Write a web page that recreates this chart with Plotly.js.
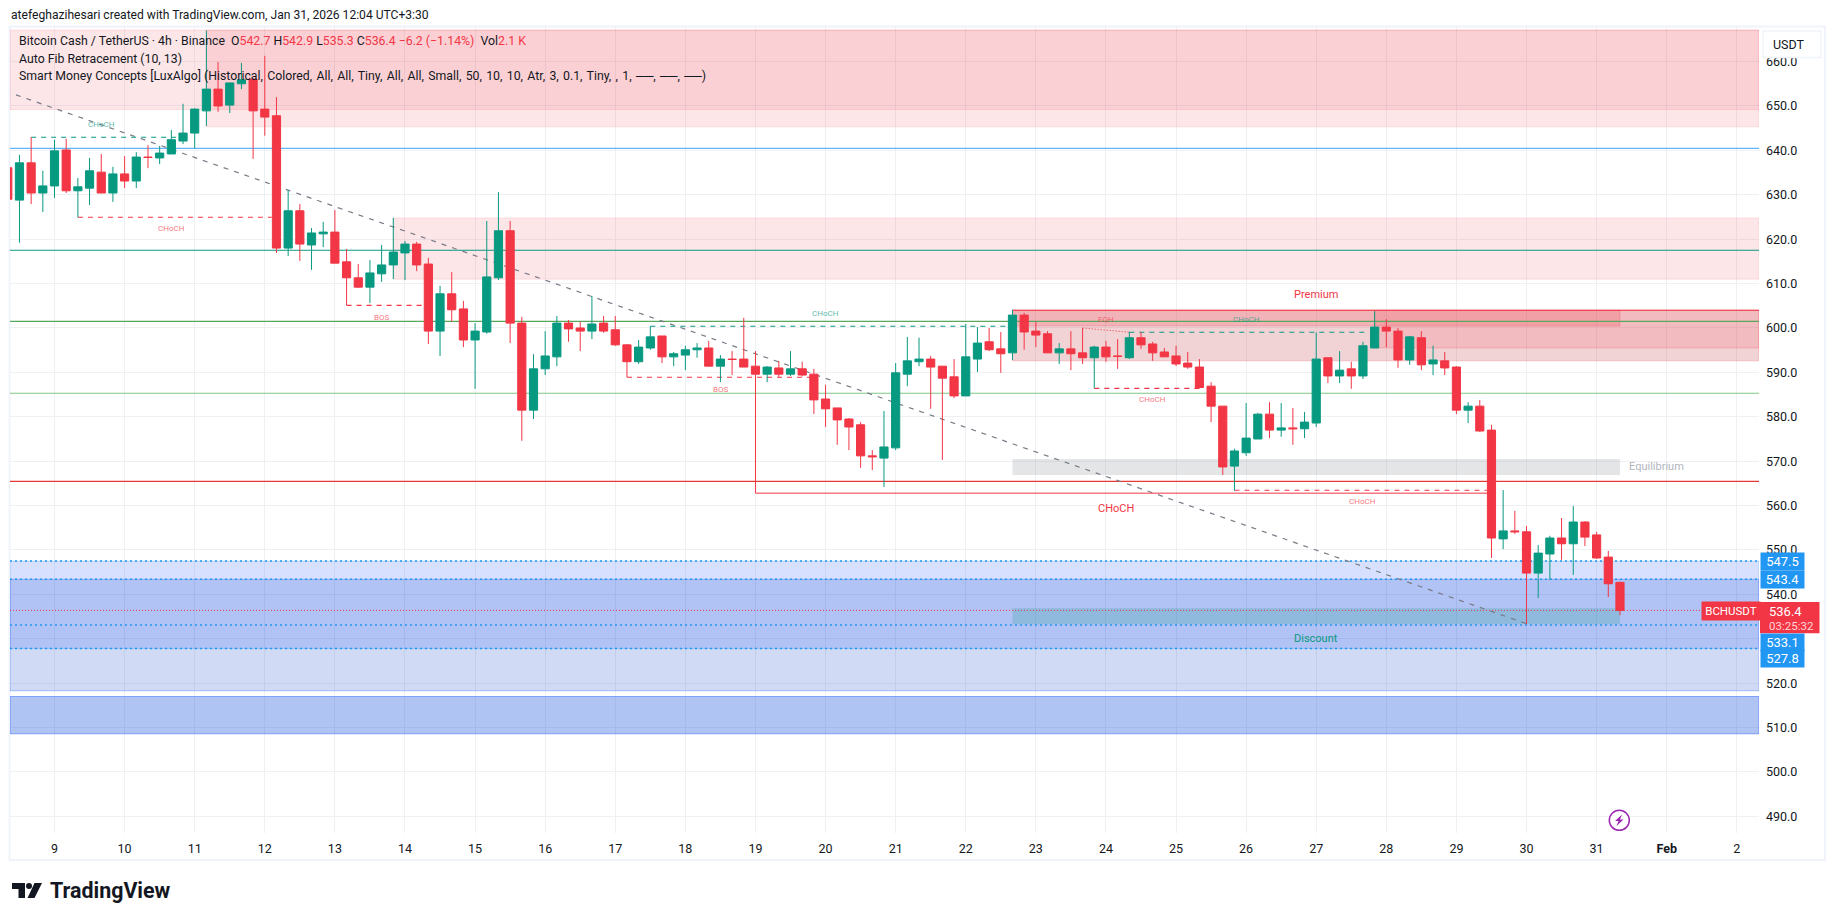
<!DOCTYPE html>
<html>
<head>
<meta charset="utf-8">
<script src="https://cdn.plot.ly/plotly-3.0.1.min.js"></script>
<style>html,body{margin:0;padding:0;background:#fff}#chart{width:1835px;height:921px}</style>
</head>
<body>
<div id="chart"></div>
<script>
const open = [636.1,628.8,637.2,630.4,632.0,640.1,630.9,631.5,635.1,630.4,634.7,633.1,638.5,638.3,639.2,642.1,643.9,648.9,653.8,650.2,655.0,656.0,649.3,647.8,618.0,626.4,618.7,621.2,621.6,614.9,611.3,609.2,612.2,614.2,616.9,618.9,614.4,599.3,607.7,604.3,597.3,599.1,611.3,621.9,601.1,581.5,590.8,593.5,601.1,600.0,599.3,601.1,599.6,596.2,592.4,595.5,598.2,593.5,593.9,595.1,595.5,591.4,593.0,593.0,591.4,589.6,591.0,589.6,590.8,589.6,584.0,582.0,579.5,578.2,571.2,570.7,573.0,589.6,592.4,593.0,591.4,589.0,584.7,593.0,596.9,595.3,594.4,602.9,599.3,598.7,594.4,595.3,594.4,593.3,595.7,593.7,593.3,597.8,596.4,594.6,593.7,592.1,591.2,586.9,582.4,568.9,571.9,575.0,580.6,577.0,577.5,577.3,578.6,593.3,589.2,590.8,589.2,595.5,600.2,599.3,592.8,597.8,591.9,592.6,591.2,581.5,582.4,577.0,552.5,554.3,554.1,544.8,549.1,552.7,551.4,556.3,553.4,548.4,542.7];
const high = [636.8,639.0,643.0,635.4,642.4,642.6,633.8,638.3,639.2,636.3,638.7,639.6,641.2,641.0,644.6,650.5,649.5,667.0,659.9,655.2,659.7,656.2,661.3,652.0,631.1,627.9,622.5,623.9,626.6,617.8,614.4,615.3,618.7,624.8,619.6,619.4,615.8,609.5,612.6,606.1,601.1,624.1,630.6,624.1,602.5,594.1,599.3,602.7,601.8,601.4,607.2,602.7,602.7,596.4,597.3,600.4,598.2,594.6,596.0,596.6,597.1,593.9,594.8,602.3,594.8,591.4,592.6,594.8,592.4,590.8,587.2,582.0,579.7,578.8,572.5,581.3,592.1,598.0,597.8,593.7,591.4,593.0,600.9,600.2,600.0,599.1,604.1,603.4,601.4,599.3,596.6,599.3,600.0,596.0,597.1,597.5,599.1,599.1,596.9,595.5,596.0,594.6,593.0,587.8,582.4,572.8,583.1,580.9,583.3,583.1,582.0,581.1,599.0,593.3,594.8,592.4,596.9,603.8,602.0,600.0,598.2,599.3,596.0,594.6,591.4,583.3,583.8,578.2,563.5,558.8,555.4,551.1,553.2,557.2,559.9,556.5,554.1,549.8,542.9];
const low = [628.5,619.2,627.9,626.1,629.3,630.4,624.9,627.7,630.4,628.4,631.5,631.5,636.0,636.9,639.2,641.4,640.5,645.5,648.7,648.4,653.8,638.1,643.3,616.9,616.2,615.1,613.1,618.2,614.6,605.1,609.0,605.6,610.4,611.0,610.8,612.8,596.4,593.7,601.4,595.7,586.3,598.7,610.8,596.6,574.6,579.5,589.4,591.4,596.9,594.8,597.5,598.9,596.0,588.9,591.9,595.1,592.1,591.4,590.5,593.3,591.4,587.8,589.4,591.2,589.6,587.8,589.0,589.2,589.1,580.6,577.7,573.7,572.5,568.5,568.0,564.2,572.5,586.9,591.4,581.8,570.3,584.2,584.7,590.1,594.8,589.9,592.8,595.1,595.7,594.4,591.9,590.5,591.9,586.4,592.4,590.8,593.0,595.3,592.6,593.5,591.4,590.8,586.4,578.8,566.9,563.4,571.2,575.0,575.2,575.5,573.7,575.2,577.7,587.6,587.6,586.3,588.5,595.5,595.7,591.0,591.7,590.5,589.4,589.4,580.6,578.6,576.6,548.2,550.2,553.6,533.3,539.2,543.3,547.8,544.4,550.9,548.0,539.4,535.3];
const close = [629.0,637.2,630.4,632.0,639.9,630.9,631.8,635.4,630.4,634.7,633.1,638.5,638.4,639.4,642.4,643.9,649.3,653.8,650.0,655.2,655.9,648.9,647.5,618.0,626.4,618.9,621.4,621.6,614.6,611.3,609.2,612.4,614.2,617.1,618.9,614.2,599.3,607.7,604.1,597.3,599.3,611.5,621.9,601.1,581.5,590.8,593.7,601.1,599.8,599.3,600.9,599.3,596.2,592.4,595.7,598.0,593.5,594.2,595.1,595.5,591.4,593.0,592.9,591.2,589.6,591.2,589.6,590.8,589.4,583.8,581.8,579.3,577.7,571.2,571.0,573.2,589.9,592.6,593.0,591.2,588.7,584.7,593.5,596.6,595.1,594.2,602.9,599.1,598.4,594.4,595.3,594.2,593.3,595.7,593.5,593.6,597.8,596.2,594.4,593.5,591.9,591.2,586.6,582.4,568.7,572.3,575.2,580.6,577.0,577.5,577.3,578.8,593.0,589.2,590.5,589.2,596.0,600.2,599.3,592.8,598.0,591.7,592.8,591.0,581.5,582.4,576.8,552.7,554.3,554.1,544.8,549.3,552.7,551.4,556.3,552.9,548.2,542.4,536.4];

const dayTickBars = [0,6,12,18,24,30,36,42,48,54,60,66,72,78,84,90,96,102,108,114,120,126,132,138,144];
const dayTickLabels = ['9','10','11','12','13','14','15','16','17','18','19','20','21','22','23','24','25','26','27','28','29','30','31','<b>Feb</b>','2'];
const priceTicks = [490,500,510,520,530,540,550,560,570,580,590,600,610,620,630,640,650,660];

const redZones = [[-3.81,145.9,667.1,649.2],[13,145.9,667.1,645.3],[29,145.9,624.8,611.0]];
const premiumZones = [[82,145.9,604.0,592.6,'rgba(190,35,45,0.2)'],[113,145.9,604.0,595.5,'rgba(242,54,69,0.15)'],[82,134,604.0,600.45,'rgba(242,54,69,0.2)']];
const equilibriumZone = [82,134,570.5,566.9];
const discountZone = [82,134,536.9,533.3];
const blueZones = [[547.5,527.8,'rgba(41,98,255,0.19)','rgba(33,150,243,0.25)'],[543.4,518.3,'rgba(25,70,205,0.2)','rgba(41,98,255,0.35)'],[517.0,508.6,'rgba(30,85,220,0.35)','rgba(41,98,255,0.5)']];

const levelPrices = [640.45,617.5,601.5,585.3,565.45];
const levelColors = ['#5fb4f5','#089981','#57a85b','#81c784','#e53935'];
const fibPrices = [547.5,543.4,533.1,527.8];
const lastPrice = 536.4;

const dashedSegments = [
  [-2,11,642.95,'#089981'],[2,18.6,624.95,'#f23645'],[25,32,605.1,'#f23645'],
  [51,82,600.4,'#089981'],[49,65,588.9,'#f23645'],[89,98,586.4,'#f23645'],
  [92,112.3,599.05,'#089981'],[101,122.6,563.45,'#f23645']];
const trendBars = [-3.3,126];
const trendPrices = [652.5,533.4];
const eqhBars = [88,92];
const eqhPrices = [600.0,599.05];
const chochBars = [60,60,123];
const chochPrices = [589.6,562.8,562.8];

const textMarks = [
  [4,645.9,'CHoCH','rgba(8,153,129,0.7)',8],[10,622.5,'CHoCH','rgba(242,54,69,0.7)',8],
  [28,602.4,'BOS','rgba(242,54,69,0.7)',8],[66,603.3,'CHoCH','rgba(8,153,129,0.7)',8],
  [57,586.2,'BOS','rgba(242,54,69,0.7)',8],[94,583.9,'CHoCH','rgba(242,54,69,0.7)',8],
  [102,601.95,'CHoCH','rgba(8,153,129,0.7)',8],[90,601.95,'EQH','rgba(242,54,69,0.7)',8],
  [112,560.95,'CHoCH','rgba(242,54,69,0.7)',8],[90.9,559.3,'CHoCH','#f23645',11],
  [108,607.5,'Premium','#f23645',11],[108,530,'Discount','#089981',11],[137.1,568.8,'Equilibrium','#b2b5be',11]];

const bars = open.map((_, k) => k - 4);
const UP = '#089981', DOWN = '#f23645', FONT = 'Roboto, sans-serif', INK = '#131722';
const L = 10, R = 1759, T = 27, B = 833;
const px = x => (x - L) / (R - L), py = y => (B - y) / (B - T);

const shapes = [];
const dataRect = (b0,b1,p0,p1,fill,line) => shapes.push({type:'rect',layer:'between',xref:'x',yref:'y',x0:b0,x1:b1,y0:p0,y1:p1,fillcolor:fill,line:{color:line||'rgba(0,0,0,0)',width:line?1:0}});
const dataLine = (b0,b1,p0,p1,color,width,dash) => shapes.push({type:'line',layer:'between',xref:'x',yref:'y',x0:b0,x1:b1,y0:p0,y1:p1,line:{color,width,dash:dash||'solid'}});
const polyPath = pts => 'M' + pts.map(p => px(p[0]) + ',' + py(p[1])).join('L') + 'Z';

redZones.forEach(z => dataRect(z[0],z[1],z[2],z[3],'rgba(242,54,69,0.125)','rgba(242,54,69,0.12)'));
blueZones.forEach(z => dataRect(-3.81,145.9,z[0],z[1],z[2],z[3]));
premiumZones.forEach(z => dataRect(z[0],z[1],z[2],z[3],z[4],'rgba(242,54,69,0.22)'));
dataLine(82,145.9,604.0,604.0,'#f23645',1.2);
dataRect(equilibriumZone[0],equilibriumZone[1],equilibriumZone[2],equilibriumZone[3],'rgba(120,123,134,0.2)');
dataRect(discountZone[0],discountZone[1],discountZone[2],discountZone[3],'rgba(8,153,129,0.2)');
levelPrices.forEach((p,k) => dataLine(-3.81,145.9,p,p,levelColors[k],1.1));
fibPrices.forEach(p => dataLine(-3.81,145.9,p,p,'#2196f3',1.5,'2px,3px'));
dataLine(-3.81,145.9,lastPrice,lastPrice,DOWN,1,'1px,2px');
dataLine(trendBars[0],trendBars[1],trendPrices[0],trendPrices[1],'#787b86',1.2,'5px,6px');
dashedSegments.forEach(s => dataLine(s[0],s[1],s[2],s[2],s[3],1.1,'5px,5px'));
dataLine(eqhBars[0],eqhBars[1],eqhPrices[0],eqhPrices[1],'rgba(242,54,69,0.7)',1,'1.5px,1.5px');
dataLine(chochBars[0],chochBars[1],chochPrices[0],chochPrices[1],DOWN,1);
dataLine(chochBars[1],chochBars[2],chochPrices[1],chochPrices[2],DOWN,1);

shapes.push({type:'rect',layer:'below',xref:'paper',yref:'paper',x0:px(9.5),x1:px(1825),y0:py(860),y1:py(26.5),line:{color:'#f0f3fa',width:2},fillcolor:'rgba(0,0,0,0)'});
shapes.push({type:'rect',layer:'above',xref:'paper',yref:'paper',x0:px(1763),x1:px(1821),y0:py(57.5),y1:py(31),fillcolor:'#ffffff',line:{color:'#f0f3fa',width:1.5}});
shapes.push({type:'rect',layer:'above',xref:'paper',yref:'paper',x0:px(1760),x1:px(1819.5),y0:py(633.3),y1:py(602),fillcolor:DOWN,line:{width:0}});
shapes.push({type:'path',layer:'above',xref:'paper',yref:'paper',path:polyPath([[12,883],[25,883],[25,898],[18.5,898],[18.5,889],[12,889]]),fillcolor:INK,line:{width:0}});
shapes.push({type:'circle',layer:'above',xref:'paper',yref:'paper',x0:px(26),x1:px(32),y0:py(889),y1:py(883),fillcolor:INK,line:{width:0}});
shapes.push({type:'path',layer:'above',xref:'paper',yref:'paper',path:polyPath([[34.5,883],[42,883],[34.5,898],[27.5,898]]),fillcolor:INK,line:{width:0}});
shapes.push({type:'circle',layer:'above',xref:'paper',yref:'paper',x0:px(1609.3),x1:px(1629.3),y0:py(830.3),y1:py(810.3),fillcolor:'#ffffff',line:{color:'#9c27b0',width:1.5}});
shapes.push({type:'path',layer:'above',xref:'paper',yref:'paper',path:polyPath([[1622,814.5],[1615,821],[1618.5,821],[1616.5,826],[1623.5,819.5],[1620,819.5]]),fillcolor:'#9c27b0',line:{width:0}});

const annotations = textMarks.map(t => ({xref:'x',yref:'y',x:t[0],y:t[1],text:t[2],showarrow:false,font:{family:FONT,size:t[4],color:t[3]}}));
const pxText = (x,y,text,size,color,anchor) => annotations.push({xref:'paper',yref:'paper',x:px(x),y:py(y),text,showarrow:false,xanchor:anchor||'left',yanchor:'middle',align:'left',font:{family:FONT,size,color},borderpad:0});
const box = (x,y,w,h,text,bg,size) => annotations.push({xref:'paper',yref:'paper',x:px(x),y:py(y),text,showarrow:false,xanchor:'left',yanchor:'middle',width:w,height:h,bgcolor:bg,align:'center',valign:'middle',borderpad:0,font:{family:FONT,size,color:'#fff'}});

const R_ = c => '<span style="color:#f23645">' + c + '</span>';
pxText(10,15,'atefeghazihesari created with TradingView.com, Jan 31, 2026 12:04 UTC+3:30',12.1,INK);
pxText(18,41.5,'Bitcoin Cash / TetherUS · 4h · Binance  O'+R_('542.7')+' H'+R_('542.9')+' L'+R_('535.3')+' C'+R_('536.4')+' '+R_('−6.2 (−1.14%)')+'  Vol'+R_('2.1 K'),12.3,INK);
pxText(18,58.5,'Auto Fib Retracement (10, 13)',12.3,INK);
pxText(18,75.5,'Smart Money Concepts [LuxAlgo] (Historical,\u200a Colored,\u200a All,\u200a All,\u200a Tiny,\u200a All,\u200a All,\u200a Small,\u200a 50,\u200a 10,\u200a 10,\u200a Atr,\u200a 3,\u200a 0.1,\u200a Tiny,\u200a ,\u200a 1,\u200a ──,\u200a ──,\u200a ──)',12.3,INK);
pxText(1772,44,'USDT',12.5,INK);
box(1760,561.5,43,17,'547.5','#2196f3',13);
box(1760,579.5,43,17,'543.4','#2196f3',13);
box(1760,642,43,17,'533.1','#2196f3',13);
box(1760,658.5,43,17,'527.8','#2196f3',13);
pxText(1768,611,'536.4',13,'#ffffff');
pxText(1768,625.5,'03:25:32',11.5,'#ffd5d8');
box(1701,611,58,18,'BCHUSDT',DOWN,11.5);
annotations.push({xref:'paper',yref:'paper',x:px(48),y:py(890.5),text:'<b>TradingView</b>',showarrow:false,xanchor:'left',yanchor:'middle',font:{family:FONT,size:21.4,color:INK}});

Plotly.newPlot('chart',[{
  type:'candlestick',x:bars,open,high,low,close,whiskerwidth:0,hoverinfo:'skip',
  increasing:{line:{color:UP,width:1},fillcolor:UP},
  decreasing:{line:{color:DOWN,width:1},fillcolor:DOWN}
}],{
  width:1835,height:921,autosize:false,showlegend:false,
  paper_bgcolor:'#fff',plot_bgcolor:'#fff',
  margin:{l:L,r:1835-R,t:T,b:921-B,pad:0},
  boxgap:0.3,boxgroupgap:0,
  xaxis:{type:'linear',range:[-3.81,145.9],rangeslider:{visible:false},tickmode:'array',tickvals:dayTickBars,ticktext:dayTickLabels,ticklen:0,showline:false,zeroline:false,showgrid:true,gridcolor:'#eef0f4',gridwidth:1,ticklabelstandoff:6,tickfont:{family:FONT,size:12.5,color:INK}},
  yaxis:{type:'linear',side:'right',range:[486.26,667.79],tickmode:'array',tickvals:priceTicks,ticktext:priceTicks.map(v=>v.toFixed(1)),ticklen:0,showline:false,zeroline:false,showgrid:true,gridcolor:'#eef0f4',gridwidth:1,ticklabelstandoff:6,tickfont:{family:FONT,size:12.5,color:INK}},
  shapes,annotations
},{staticPlot:true,displayModeBar:false});
</script>
</body>
</html>
